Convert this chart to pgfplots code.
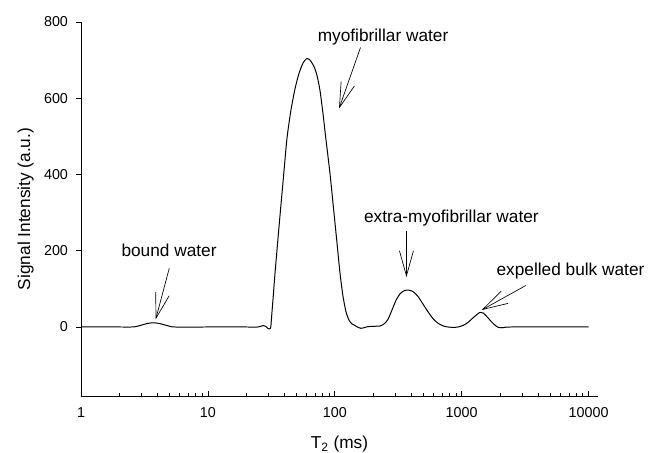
\documentclass[border=0pt]{standalone}
\usepackage{pgfplots}
\pgfplotsset{compat=1.18}
\usepackage{fontspec}
\setmainfont{Liberation Sans}
\usetikzlibrary{arrows.meta}
\begin{document}
\begin{tikzpicture}
\begin{axis}[
  name=ax,
  scale only axis,
  width=387.75bp, height=280.5bp,
  xmode=log,
  xmin=1, xmax=11860,
  ymin=-181, ymax=800,
  axis x line*=bottom,
  axis y line*=left,
  axis line style={line width=0.6pt},
  xtick={1,10,100,1000,10000},
  xticklabels={1,10,100,1000,10000},
  ytick={0,200,400,600,800},
  xtick align=inside,
  ytick align=outside,
  major tick length=3.75bp,
  minor tick length=2.2bp,
  tick style={line width=0.5pt, black},
  /pgf/number format/assume math mode=true,
  ticklabel style={font=\fontsize{10.8}{12}\selectfont},
  yticklabel style={xshift=-2.5bp},
  xticklabel style={yshift=-5bp},
  label style={font=\fontsize{13}{15.6}\selectfont},
  xlabel={T\textsubscript{2} (ms)},
  ylabel={Signal Intensity (a.u.)},
  xlabel style={at={(axis description cs:0.5,-0.1417)}, anchor=base},
  ylabel style={at={(axis description cs:-0.0986,0.5)}, anchor=base},
  clip=false,
]
\addplot[black, line width=0.75pt, smooth, tension=0.4] coordinates {
(1,0) (2,0) (2.5,0) (2.7,1) (3.0,5) (3.3,9) (3.7,11) (4.1,9.5) (4.5,6) (5.0,2) (5.5,0)
(10,0) (20,0) (24.8,0) (26.2,2) (27.4,4) (28.7,1) (29.8,-4) (30.6,-5) (31.3,0)
(32.0,40) (32.9,90) (33.8,141) (36.3,261) (39.1,381) (42.0,495) (45.2,570) (48.6,625)
(52.2,665) (56.1,692) (60.0,704) (63.8,700) (68.6,683) (72.4,660) (76.4,621) (80.7,560)
(85.3,490) (91.6,403) (98.6,298) (104.1,220) (109.9,141) (116.1,80) (122.5,40) (129.4,18)
(136.6,8) (144,4) (152.4,-1) (160.8,-3.5) (169.8,-2) (179.3,0.5) (192.9,1.5) (211.2,2)
(227,2.5) (244.5,8) (262.6,20) (282.6,45) (303.6,70) (326.5,87) (351.2,95) (379,97)
(413.2,93) (452.6,80) (495.6,60) (542.5,40) (594,22) (650,10) (712,3) (780,0) (859,-1)
(935,0) (1024,4) (1121,12) (1228,24) (1321,33) (1393,38.4) (1472,37) (1553,30) (1671,18)
(1798,7) (1941,-1) (2080,-2) (2235,-0.5) (2490,0) (10000,0)
};
\tikzset{annot/.style={font=\fontsize{13}{15.6}\selectfont, anchor=base, inner sep=0pt},
  barb/.style={-{Straight Barb[length=18.75bp,width=10.5bp]}, line width=0.5pt}}
\node[annot] at (axis cs:240,750) {myofibrillar water};
\node[annot] at (axis cs:4.94,186) {bound water};
\node[annot] at (axis cs:830,273) {extra-myofibrillar water};
\node[annot] at (axis cs:7199,134) {expelled bulk water};
\draw[barb] (axis cs:159.4,733) -- (axis cs:108,573);
\draw[barb] (axis cs:4.96,154) -- (axis cs:3.88,20.2);
\draw[barb] (axis cs:367,252) -- (axis cs:367,131);
\draw[barb] (axis cs:3199,108.8) -- (axis cs:1438,44.6);
\end{axis}
\pgfresetboundingbox
\path[use as bounding box] ([shift={(-60.75bp,-42.75bp)}]ax.south west) rectangle ([shift={(434.25bp,297bp)}]ax.south west);
\end{tikzpicture}
\end{document}
